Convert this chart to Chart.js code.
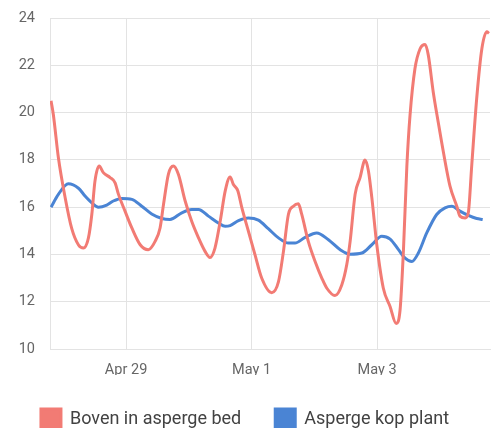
<!DOCTYPE html>
<html>
<head>
<meta charset="utf-8">
<script src="https://cdn.jsdelivr.net/npm/chart.js@4/dist/chart.umd.min.js"></script>
<style>
  html, body { margin: 0; padding: 0; background: #fff; overflow: hidden; }
  #wrap { width: 497px; height: 439px; position: relative; }
</style>
</head>
<body>
<div id="wrap"><canvas id="tempChart"></canvas></div>
<script>
// x = uren sinds 27 april 00:00
const seriesNames = ['Boven in asperge bed', 'Asperge kop plant'];

const bedHours = [19.3, 20.2, 22.1, 24.7, 27.2, 29.8, 31.7, 33.6, 34.9, 36.1, 37.7, 39.3, 41.9, 43.8, 45.1, 47.6,
  50.2, 53.4, 56.5, 59.1, 61.0, 62.3, 64.2, 66.1, 68.0, 70.6, 73.1, 75.7, 78.2, 80.1, 82.0, 84.0, 85.9, 87.8,
  89.0, 90.7, 92.3, 94.8, 97.3, 99.9, 103.7, 106.3, 108.2, 110.1, 112.0, 113.9, 115.2, 117.7, 120.3, 122.9,
  124.8, 127.9, 130.5, 132.4, 133.7, 135.6, 137.5, 139.4, 140.7, 142.0, 143.9, 146.4, 149.0, 151.3, 152.8,
  154.1, 155.4, 156.6, 158.5, 160.5, 162.4, 163.6, 165.5, 167.4, 169.4, 171.9, 174.5, 175.7, 177.7, 178.9,
  180.2, 182.1, 184.1, 186.0, 186.8];
const bedTemps = [20.5, 19.9, 18.1, 16.4, 15.1, 14.4, 14.27, 14.7, 15.7, 17.1, 17.74, 17.46, 17.25, 17.03, 16.54, 15.83,
  15.12, 14.41, 14.2, 14.55, 15.12, 16.1, 17.4, 17.74, 17.39, 16.26, 15.4, 14.7, 14.13, 13.87, 14.27, 15.4, 16.68, 17.28,
  16.97, 16.7, 15.97, 14.98, 13.99, 12.99, 12.38, 12.85, 14.13, 15.7, 16.04, 16.14, 15.69, 14.55, 13.7, 12.99,
  12.57, 12.26, 12.71, 13.56, 14.55, 16.54, 17.25, 17.99, 17.53, 16.4, 14.41, 12.57, 11.79, 11.08, 11.65,
  14.2, 17.74, 19.87, 21.86, 22.71, 22.88, 22.43, 20.86, 19.59, 18.31, 16.89, 16.04, 15.62, 15.54, 15.76,
  17.74, 20.58, 22.71, 23.42, 23.35];

const kopHours = [19.3, 22.1, 25.9, 29.8, 32.3, 34.9, 37.4, 40.6, 43.1, 46.4, 50.2, 54.0, 57.8, 61.7, 64.8, 69.3,
  73.1, 75.7, 79.5, 83.3, 85.9, 87.8, 91.0, 94.8, 98.6, 102.4, 106.3, 110.1, 112.6, 116.5, 120.9, 125.4, 129.9,
  133.7, 138.2, 142.0, 145.8, 149.0, 152.2, 154.7, 157.3, 159.8, 163.0, 166.8, 170.0, 172.6, 175.7, 178.9,
  182.1, 184.4];
const kopTemps = [16.0, 16.54, 16.99, 16.8, 16.47, 16.18, 16.0, 16.09, 16.26, 16.37, 16.33, 16.04, 15.71, 15.52, 15.48, 15.76,
  15.9, 15.9, 15.62, 15.33, 15.19, 15.22, 15.43, 15.54, 15.45, 15.09, 14.7, 14.48, 14.48, 14.72, 14.91, 14.62, 14.2,
  14.01, 14.06, 14.41, 14.77, 14.65, 14.2, 13.84, 13.7, 14.06, 14.91, 15.69, 15.97, 16.04, 15.83, 15.65,
  15.52, 15.48];

const tickHours = [48, 96, 144];
const tickLabels = ['Apr 29', 'May 1', 'May 3'];

const bedColor = '#f27b74';
const kopColor = '#4a84d4';
const gridColor = '#e3e3e3';

function toPoints(hours, temps) {
  return hours.map((h, i) => ({ x: h, y: temps[i] }));
}

const ctx = document.getElementById('tempChart').getContext('2d');
new Chart(ctx, {
  type: 'line',
  data: {
    datasets: [{
      label: seriesNames[0],
      data: toPoints(bedHours, bedTemps),
      borderColor: bedColor,
      backgroundColor: bedColor,
      borderWidth: 3,
      pointRadius: 0,
      cubicInterpolationMode: 'monotone',
      fill: false
    }, {
      label: seriesNames[1],
      data: toPoints(kopHours, kopTemps),
      borderColor: kopColor,
      backgroundColor: kopColor,
      borderWidth: 3,
      pointRadius: 0,
      cubicInterpolationMode: 'monotone',
      fill: false
    }]
  },
  options: {
    responsive: true,
    maintainAspectRatio: false,
    animation: false,
    layout: { padding: { top: 18, right: 7, left: 0, bottom: 0 } },
    plugins: {
      legend: {
        position: 'bottom',
        labels: {
          boxWidth: 20,
          boxHeight: 20,
          padding: 34,
          color: '#424242',
          font: { family: 'Roboto', size: 18 }
        }
      },
      tooltip: { enabled: false }
    },
    scales: {
      x: {
        type: 'linear',
        min: 18.9,
        max: 187.2,
        afterBuildTicks: (scale) => {
          scale.ticks = tickHours.map(v => ({ value: v }));
        },
        afterFit: (scale) => { scale.height = 26; },
        grid: { color: gridColor, drawTicks: false },
        border: { color: gridColor },
        ticks: {
          padding: 13,
          color: '#666',
          font: { family: 'Roboto', size: 14.5 },
          maxRotation: 0,
          callback: (value) => {
            const i = tickHours.indexOf(value);
            return i >= 0 ? tickLabels[i] : '';
          }
        }
      },
      y: {
        min: 10,
        max: 24,
        afterFit: (scale) => { scale.width = 50; },
        grid: { color: gridColor, tickLength: 15, tickColor: 'rgba(0,0,0,0)' },
        border: { color: gridColor },
        ticks: {
          stepSize: 2,
          padding: 0,
          color: '#666',
          font: { family: 'Roboto', size: 14.5 }
        }
      }
    }
  }
});
</script>
</body>
</html>
